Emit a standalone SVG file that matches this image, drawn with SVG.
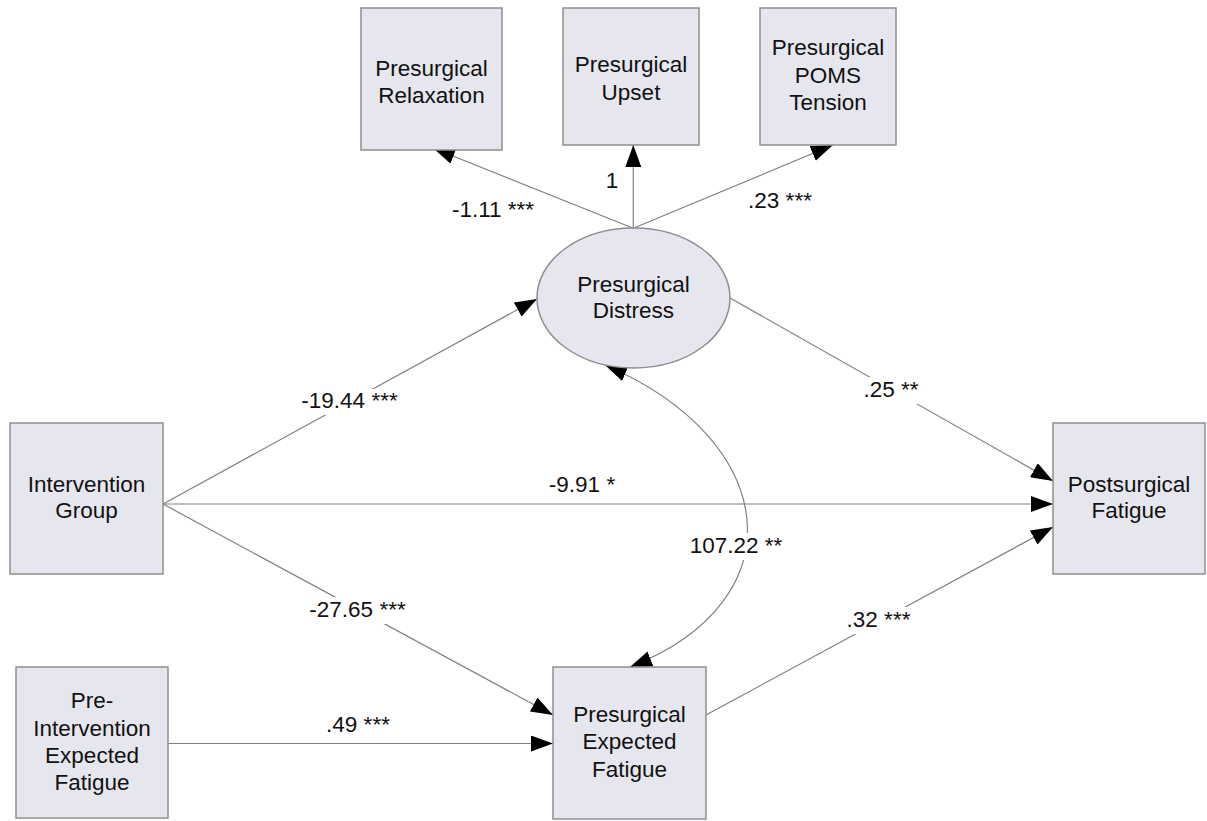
<svg xmlns="http://www.w3.org/2000/svg" width="1207" height="821" viewBox="0 0 1207 821">
<style>
.node{fill:#e6e6ee;stroke:#8e8e8e;stroke-width:1.5}
.t{font-family:"Liberation Sans",Arial,sans-serif;font-size:22.5px;fill:#111;text-anchor:middle}
.c{fill:none;stroke:#808080;stroke-width:1.2}
.bg{fill:#fff}
</style>
<defs>
<marker id="ah" markerUnits="userSpaceOnUse" markerWidth="22" markerHeight="16" refX="22" refY="8" orient="auto-start-reverse" viewBox="0 0 22 16">
<path d="M0,0 L22,8 L0,16 z" fill="#000"/>
</marker>
</defs>
<rect width="1207" height="821" fill="#fff"/>
<g id="connectors">
<line class="c" x1="633.3" y1="228.3" x2="433" y2="148" marker-end="url(#ah)"/>
<line class="c" x1="633.3" y1="228.3" x2="633.3" y2="145" marker-end="url(#ah)"/>
<line class="c" x1="633.3" y1="228.3" x2="833" y2="145" marker-end="url(#ah)"/>
<line class="c" x1="163" y1="504" x2="537" y2="299" marker-end="url(#ah)"/>
<line class="c" x1="163" y1="504" x2="1053" y2="504" marker-end="url(#ah)"/>
<line class="c" x1="163" y1="504" x2="553" y2="715" marker-end="url(#ah)"/>
<line class="c" x1="168" y1="743.5" x2="553" y2="743.5" marker-end="url(#ah)"/>
<line class="c" x1="730" y1="298" x2="1053" y2="481" marker-end="url(#ah)"/>
<line class="c" x1="706" y1="715" x2="1053" y2="527" marker-end="url(#ah)"/>
<path class="c" d="M605,365 C780,440 800,600 630,667" marker-start="url(#ah)" marker-end="url(#ah)"/>
</g>
<g id="relaxation">
<rect class="node" x="361" y="8" width="141" height="142"/>
<text class="t" x="431.5" y="76">Presurgical</text>
<text class="t" x="431.5" y="103">Relaxation</text>
</g>
<g id="upset">
<rect class="node" x="563" y="8" width="136" height="137"/>
<text class="t" x="631" y="72">Presurgical</text>
<text class="t" x="631" y="100">Upset</text>
</g>
<g id="poms">
<rect class="node" x="760" y="8" width="136" height="137"/>
<text class="t" x="828" y="55">Presurgical</text>
<text class="t" x="828" y="83">POMS</text>
<text class="t" x="828" y="110">Tension</text>
</g>
<g id="distress">
<ellipse class="node" cx="633.5" cy="298" rx="96.5" ry="70"/>
<text class="t" x="633.5" y="292">Presurgical</text>
<text class="t" x="633.5" y="318">Distress</text>
</g>
<g id="intervention">
<rect class="node" x="10" y="423" width="153" height="151"/>
<text class="t" x="86.5" y="492">Intervention</text>
<text class="t" x="86.5" y="518">Group</text>
</g>
<g id="postsurgical">
<rect class="node" x="1053" y="423" width="152" height="151"/>
<text class="t" x="1129" y="492">Postsurgical</text>
<text class="t" x="1129" y="518">Fatigue</text>
</g>
<g id="preintervention">
<rect class="node" x="16" y="667" width="152" height="151"/>
<text class="t" x="92" y="708">Pre-</text>
<text class="t" x="92" y="736">Intervention</text>
<text class="t" x="92" y="763">Expected</text>
<text class="t" x="92" y="790">Fatigue</text>
</g>
<g id="expected">
<rect class="node" x="553" y="667" width="153" height="152"/>
<text class="t" x="629.5" y="722">Presurgical</text>
<text class="t" x="629.5" y="749">Expected</text>
<text class="t" x="629.5" y="777">Fatigue</text>
</g>
<g id="labels">
<text class="t" x="493" y="217">-1.11 ***</text>
<text class="t" x="612" y="188">1</text>
<text class="t" x="780" y="208">.23 ***</text>
<rect class="bg" x="299" y="389" width="101" height="26"/>
<text class="t" x="349.5" y="408">-19.44 ***</text>
<text class="t" x="582" y="492">-9.91 *</text>
<rect class="bg" x="862" y="377" width="58" height="27"/>
<text class="t" x="891" y="397">.25 **</text>
<rect class="bg" x="688" y="533" width="96" height="27"/>
<text class="t" x="736" y="553">107.22 **</text>
<rect class="bg" x="306" y="597" width="103" height="27"/>
<text class="t" x="357.5" y="617">-27.65 ***</text>
<rect class="bg" x="845" y="607" width="67" height="27"/>
<text class="t" x="878.5" y="627">.32 ***</text>
<text class="t" x="358" y="732">.49 ***</text>
</g>
</svg>
